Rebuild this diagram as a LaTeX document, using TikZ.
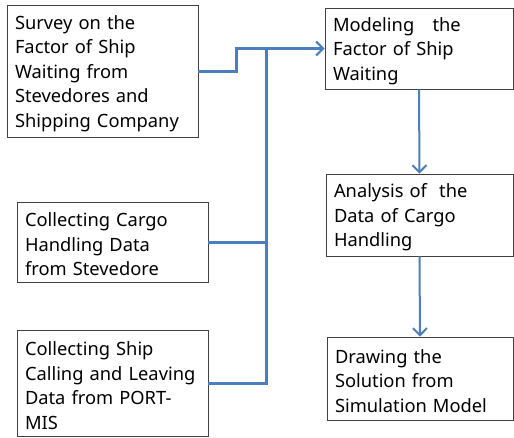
\documentclass[tikz,border=0pt]{standalone}
\usepackage{fontspec}
\setmainfont{Noto Sans}
\usetikzlibrary{arrows.meta}
\definecolor{lineblue}{HTML}{4A7EBE}
\definecolor{boxline}{HTML}{404040}
\tikzset{
  stepbox/.style={draw=boxline, line width=0.9pt, align=left, inner sep=0pt,
    font=\fontsize{18.3}{24.5}\selectfont, anchor=center,
    execute at end node={\par\vspace*{-5pt}}},
  thickconn/.style={draw=lineblue, line width=3pt},
  thinconn/.style={draw=lineblue, line width=2pt},
  arrowhd/.style={-{Straight Barb[length=7pt,width=14pt,line width=2pt]}},
}
\begin{document}
\begin{tikzpicture}[x=1pt,y=1pt]
\useasboundingbox (0,0) rectangle (514,-437);
\node[stepbox, minimum width=191pt, minimum height=132pt, text width=175pt] (s) at (102.5,-71) {Survey on the\\Factor of Ship\\Waiting from\\Stevedores and\\Shipping Company};
\node[stepbox, minimum width=188pt, minimum height=81pt, text width=172pt] (m) at (419,-48.5) {Modeling\ \ \ the\\Factor of Ship\\Waiting};
\node[stepbox, minimum width=191pt, minimum height=80pt, text width=175pt] (c) at (112.5,-242) {Collecting Cargo\\Handling Data\\from Stevedore};
\node[stepbox, minimum width=191pt, minimum height=106pt, text width=175pt] (p) at (112.5,-383) {Collecting Ship\\Calling and Leaving\\Data from PORT-\\MIS};
\node[stepbox, minimum width=187pt, minimum height=82pt, text width=171pt] (a) at (419.5,-215) {Analysis of\ \ the\\Data of Cargo\\Handling};
\node[stepbox, minimum width=186pt, minimum height=83pt, text width=170pt] (d) at (420,-378.5) {Drawing the\\Solution from\\Simulation Model};
\coordinate (bus) at (266,-48.5);
\draw[thickconn, arrowhd] (s.east) -- ++(38,0) |- (m.west);
\draw[thickconn] (c.east) -| (bus);
\draw[thickconn] (p.east) -| (bus);
\draw[thinconn, arrowhd] (m.south) -- (a.north);
\draw[thinconn, arrowhd] (a.south) -- (d.north);
\end{tikzpicture}
\end{document}
